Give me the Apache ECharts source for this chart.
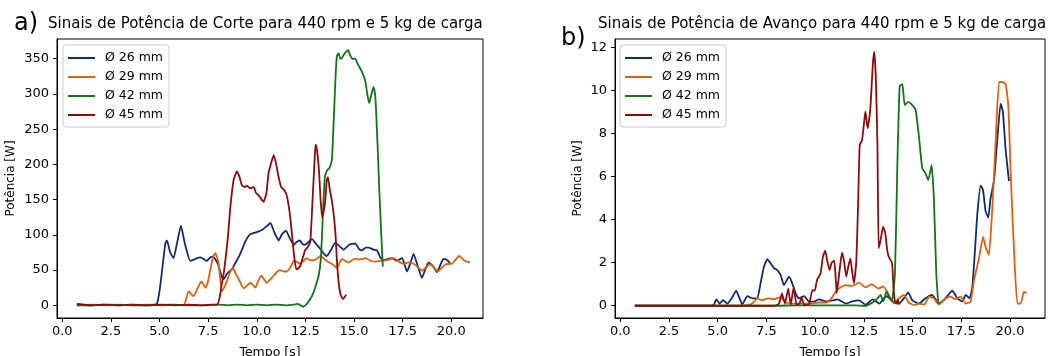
<!DOCTYPE html>
<html>
<head>
<meta charset="utf-8">
<script src="https://cdn.jsdelivr.net/npm/echarts@6/dist/echarts.min.js"></script>
<style>html,body{margin:0;padding:0;background:#fff}#c{width:1064px;height:356px}</style>
</head>
<body>
<div id="c"></div>
<script>
// ---- DATA ----
const seriesNames = ['Ø 26 mm', 'Ø 29 mm', 'Ø 42 mm', 'Ø 45 mm'];
const xTicks = [0, 2.5, 5, 7.5, 10, 12.5, 15, 17.5, 20];
const yTicksCorte = [0, 50, 100, 150, 200, 250, 300, 350];
const yTicksAvanco = [0, 2, 4, 6, 8, 10, 12];

// a) Potência de Corte [W] vs tempo [s]
const corte26 = [[0.75,1],[1.4,0],[2.1,1],[2.8,0],[3.5,1],[4.2,0],[4.7,1],[4.87,2],[5.0,20],[5.13,49],[5.3,88],[5.38,92],[5.55,75],[5.72,67],[5.9,88],[6.1,113],[6.3,88],[6.58,63],[6.85,66],[7.09,68],[7.25,66],[7.43,63],[7.6,68],[7.75,69],[7.9,64],[8.04,56],[8.2,40],[8.3,37],[8.45,44],[8.55,47],[8.72,51],[8.9,60],[9.15,73],[9.4,90],[9.67,101],[10.0,104],[10.27,107],[10.5,112],[10.7,117],[10.9,104],[11.12,92],[11.3,101],[11.5,106],[11.7,95],[11.9,86],[12.05,90],[12.2,92],[12.4,86],[12.55,87],[12.84,94],[13.05,87],[13.27,80],[13.45,73],[13.6,70],[13.8,78],[14.04,89],[14.25,84],[14.46,79],[14.75,86],[15.06,88],[15.25,80],[15.4,78],[15.6,82],[15.75,82],[16.0,79],[16.18,78],[16.35,68],[16.52,64],[16.75,66],[16.95,67],[17.2,63],[17.47,67],[17.6,58],[17.72,48],[17.9,60],[18.06,73],[18.25,58],[18.49,39],[18.65,50],[18.83,61],[19.05,56],[19.26,47],[19.45,58],[19.6,66],[19.8,64],[19.95,59]];
const corte29 = [[0.75,0],[1.5,1],[2.2,0],[3.0,1],[3.7,0],[4.4,1],[5.1,0],[5.8,1],[6.24,0],[6.5,20],[6.62,16],[6.76,13],[6.95,24],[7.15,34],[7.37,25],[7.5,35],[7.6,49],[7.75,68],[7.87,74],[7.96,68],[8.04,59],[8.2,20],[8.32,25],[8.47,35],[8.62,47],[8.77,53],[8.92,45],[9.07,37],[9.32,24],[9.5,28],[9.67,32],[9.8,29],[9.93,25],[10.05,33],[10.22,42],[10.35,38],[10.5,32],[10.7,37],[10.9,43],[11.05,48],[11.2,50],[11.38,48],[11.55,48],[11.75,55],[11.9,63],[12.05,62],[12.2,59],[12.4,63],[12.57,67],[12.75,64],[12.9,64],[13.1,66],[13.27,70],[13.5,65],[13.7,61],[13.9,58],[14.12,53],[14.25,60],[14.38,66],[14.55,63],[14.7,61],[14.85,63],[15.0,66],[15.3,65],[15.6,67],[15.8,64],[16.0,62],[16.35,63],[16.7,64],[17.05,67],[17.3,62],[17.55,59],[17.8,61],[18.06,59],[18.25,55],[18.49,49],[18.7,54],[18.9,58],[19.1,54],[19.3,48],[19.5,53],[19.7,58],[19.9,59],[20.04,59],[20.2,64],[20.4,70],[20.55,67],[20.7,63],[20.96,61]];
const corte42 = [[0.75,0],[1.5,0],[2.5,1],[3.5,0],[4.5,0],[5.5,1],[6.5,0],[7.5,0],[8.0,1],[8.5,0],[9.0,1],[9.5,0],[10.0,1],[10.5,0],[11.0,1],[11.5,0],[11.9,1],[12.1,2],[12.25,0],[12.4,-2],[12.6,3],[12.75,9],[12.9,17],[13.0,25],[13.18,42],[13.3,68],[13.4,130],[13.5,182],[13.62,192],[13.72,194],[13.86,206],[13.95,259],[14.06,330],[14.12,354],[14.2,358],[14.3,350],[14.4,352],[14.48,356],[14.6,360],[14.7,362],[14.8,355],[14.9,350],[15.06,350],[15.2,342],[15.4,332],[15.58,318],[15.68,300],[15.78,287],[15.9,300],[16.0,310],[16.08,300],[16.14,273],[16.22,220],[16.3,163],[16.4,100],[16.48,55]];
const corte45 = [[0.75,2],[1.5,0],[2.2,1],[3.0,0],[3.7,1],[4.4,0],[5.1,1],[5.8,0],[6.5,1],[7.2,0],[7.7,1],[7.98,1],[8.11,14],[8.2,30],[8.32,49],[8.5,92],[8.64,139],[8.81,178],[8.98,190],[9.1,183],[9.24,170],[9.4,168],[9.5,170],[9.65,166],[9.84,168],[9.95,160],[10.1,156],[10.25,150],[10.35,147],[10.5,160],[10.6,187],[10.75,203],[10.87,213],[11.0,200],[11.1,185],[11.25,168],[11.4,164],[11.55,155],[11.72,125],[11.9,75],[12.03,51],[12.15,53],[12.24,56],[12.48,78],[12.6,82],[12.75,90],[12.85,140],[12.92,178],[13.0,220],[13.04,228],[13.12,215],[13.2,190],[13.28,150],[13.36,125],[13.45,135],[13.52,149],[13.6,178],[13.66,182],[13.75,165],[13.85,150],[13.95,130],[14.05,100],[14.12,63],[14.2,35],[14.3,16],[14.43,9],[14.52,12],[14.6,15]];

// b) Potência de Avanço [W] vs tempo [s]
const avanco26 = [[0.75,0],[1.5,0],[2.5,0],[3.5,0],[4.5,0],[4.8,0.05],[4.93,0.3],[5.1,0.1],[5.27,0.26],[5.5,0.1],[5.75,0.4],[5.95,0.7],[6.1,0.4],[6.26,0.06],[6.52,0.45],[6.78,0.34],[7.03,0.34],[7.2,1.04],[7.37,1.8],[7.55,2.17],[7.72,1.97],[7.9,1.74],[8.06,1.66],[8.23,1.43],[8.4,0.96],[8.66,1.35],[8.83,1.04],[9.0,0.57],[9.17,0.34],[9.43,0.45],[9.69,0.19],[9.94,0.19],[10.2,0.3],[10.55,0.2],[10.9,0.25],[11.15,0.3],[11.6,0.1],[11.9,0.2],[12.25,0.25],[12.6,0.05],[12.95,0.3],[13.3,0.1],[13.65,0.45],[14.0,0.2],[14.3,0.1],[14.56,0.35],[14.78,0.62],[14.99,0.25],[15.33,0.1],[15.67,0.35],[16.0,0.5],[16.35,0.1],[16.7,0.35],[17.04,0.7],[17.3,0.35],[17.55,0.2],[17.73,0.5],[17.93,0.35],[18.07,0.88],[18.2,2.5],[18.33,4.3],[18.5,5.6],[18.62,5.37],[18.75,4.4],[18.89,4.1],[19.0,4.96],[19.18,5.81],[19.35,7.7],[19.52,9.4],[19.64,9.0],[19.78,7.24],[19.95,5.8]];
const avanco29 = [[0.75,0],[1.5,0],[2.5,0],[3.5,0],[4.5,0],[5.5,0],[6.5,0.02],[6.78,0.1],[7.03,0.34],[7.25,0.26],[7.6,0.34],[7.9,0.3],[8.2,0.4],[8.5,0.15],[8.9,0.1],[9.3,0.1],[9.7,0.1],[10.2,0.15],[10.6,0.15],[10.88,0.4],[11.05,0.65],[11.22,0.8],[11.57,0.96],[11.9,0.92],[12.25,1.07],[12.6,0.85],[12.9,1.0],[13.25,0.8],[13.5,0.9],[13.79,0.5],[14.04,0.1],[14.3,0.34],[14.56,0.5],[14.8,0.15],[15.08,0.03],[15.33,0.1],[15.6,0.05],[15.85,0.42],[16.1,0.34],[16.35,0.05],[16.7,0.34],[16.95,0.42],[17.2,0.3],[17.47,0.42],[17.73,0.1],[17.98,0.18],[18.16,1.2],[18.41,2.2],[18.62,3.2],[18.75,2.74],[18.92,2.36],[19.1,4.6],[19.27,7.7],[19.44,10.4],[19.6,10.4],[19.78,10.3],[19.92,9.25],[20.04,6.1],[20.2,2.74],[20.38,0.1],[20.55,0.1],[20.72,0.65],[20.85,0.57]];
const avanco42 = [[0.75,0],[2,0],[4,0],[6,0],[8,0],[9,0.02],[10,0.02],[11,0.02],[12,0.02],[12.6,0.0],[12.95,0.15],[13.2,0.34],[13.36,0.5],[13.5,0.2],[13.66,0.65],[13.8,0.4],[13.94,0.2],[14.1,1.5],[14.22,6.46],[14.34,10.2],[14.48,10.3],[14.6,9.33],[14.78,9.48],[14.99,9.33],[15.16,9.1],[15.33,7.86],[15.5,6.39],[15.67,6.15],[15.81,5.84],[15.98,6.54],[16.1,4.9],[16.22,1.5],[16.32,0.1]];
const avanco45 = [[0.75,0],[2,0],[4,0],[6,0],[7.5,0],[8.0,0.02],[8.15,0.1],[8.3,0.57],[8.45,0.1],[8.62,0.8],[8.75,0.05],[8.9,0.85],[9.05,0.05],[9.2,0.1],[9.3,0.4],[9.45,0.02],[9.7,0.1],[9.86,0.73],[9.98,0.7],[10.1,1.2],[10.28,1.5],[10.4,2.28],[10.52,2.56],[10.62,2.1],[10.74,1.66],[10.85,2.0],[10.98,2.1],[11.05,1.4],[11.11,0.59],[11.25,1.6],[11.38,2.47],[11.48,2.1],[11.6,1.35],[11.7,1.8],[11.81,2.2],[11.9,1.6],[11.99,1.05],[12.11,1.98],[12.2,4.5],[12.29,7.47],[12.41,7.7],[12.5,8.4],[12.58,9.03],[12.7,8.25],[12.83,9.1],[12.97,11.3],[13.04,11.8],[13.12,10.5],[13.2,7.5],[13.26,2.68],[13.35,3.0],[13.49,3.68],[13.6,3.38],[13.7,2.6],[13.78,2.28],[13.95,1.98],[14.03,0.73],[14.1,0.2],[14.17,0.1],[14.25,0.3],[14.3,0.05]];

// ---- STYLE ----
const colors = ['#0f2d6e', '#e0600f', '#15731a', '#8c0c0c'];
const FONT = 'DejaVu Sans';
const chart = echarts.init(document.getElementById('c'), null, {renderer: 'canvas'});

function xAxis(gi) {
  return {
    type: 'value', gridIndex: gi, min: -0.27, max: gi === 0 ? 21.63 : 21.8,
    name: 'Tempo [s]', nameLocation: 'middle', nameGap: 28,
    nameTextStyle: {fontFamily: FONT, fontSize: 12.5, color: '#000'},
    axisLine: {show: true, onZero: false, lineStyle: {color: '#000', width: 1}},
    axisTick: {show: true, length: 4, lineStyle: {color: '#000'}, customValues: xTicks},
    axisLabel: {fontFamily: FONT, fontSize: 13, color: '#000', margin: 7,
      customValues: xTicks, formatter: v => v.toFixed(1)},
    splitLine: {show: false}
  };
}
function yAxis(gi, ticks, min, max, gap) {
  return {
    type: 'value', gridIndex: gi, min: min, max: max,
    name: 'Potência [W]', nameLocation: 'middle', nameGap: gap,
    nameTextStyle: {fontFamily: FONT, fontSize: 12, color: '#000'},
    axisLine: {show: true, onZero: false, lineStyle: {color: '#000', width: 1}},
    axisTick: {show: true, length: 4, lineStyle: {color: '#000'}, customValues: ticks},
    axisLabel: {fontFamily: FONT, fontSize: 13, color: '#000', margin: 8,
      customValues: ticks, formatter: v => String(v)},
    splitLine: {show: false}
  };
}
function mk(name, data, i, gi) {
  return {
    name: name, type: 'line', data: data, xAxisIndex: gi, yAxisIndex: gi,
    showSymbol: false, smooth: 0.15, animation: false,
    lineStyle: {color: colors[i], width: 1.8}, itemStyle: {color: colors[i]}
  };
}
function legend(left) {
  return {
    show: true, orient: 'vertical', left: left, top: 45,
    data: seriesNames, icon: 'rect', itemWidth: 27, itemHeight: 2, itemGap: 5,
    backgroundColor: '#fff', borderColor: '#cccccc', borderWidth: 1, borderRadius: 3,
    padding: [6, 6, 5, 5],
    textStyle: {fontFamily: FONT, fontSize: 12.5, color: '#000', lineHeight: 14, padding: [0, 0, 0, 5]}
  };
}

const option = {
  backgroundColor: '#fff',
  animation: false,
  title: [
    {text: 'a)', left: 14, top: 12, padding: 0, textStyle: {fontFamily: FONT, fontSize: 24, fontWeight: 'normal', color: '#000'}},
    {text: 'Sinais de Potência de Corte para 440 rpm e 5 kg de carga', left: 48, top: 17, padding: 0,
      textStyle: {fontFamily: FONT, fontSize: 15, fontWeight: 'normal', color: '#000'}},
    {text: 'b)', left: 561, top: 27, padding: 0, textStyle: {fontFamily: FONT, fontSize: 24, fontWeight: 'normal', color: '#000'}},
    {text: 'Sinais de Potência de Avanço para 440 rpm e 5 kg de carga', left: 598, top: 17, padding: 0,
      textStyle: {fontFamily: FONT, fontSize: 15, fontWeight: 'normal', color: '#000'}}
  ],
  grid: [
    {left: 57, top: 39, width: 426, height: 279, show: true, borderColor: '#000', borderWidth: 1, backgroundColor: '#fff',
      containLabel: false, outerBoundsMode: 'none'},
    {left: 615, top: 39, width: 430, height: 279, show: true, borderColor: '#000', borderWidth: 1, backgroundColor: '#fff',
      containLabel: false, outerBoundsMode: 'none'}
  ],
  xAxis: [xAxis(0), xAxis(1)],
  yAxis: [yAxis(0, yTicksCorte, -18, 378, 40), yAxis(1, yTicksAvanco, -0.57, 12.4, 31)],
  legend: [legend(63), legend(620)],
  series: [
    mk(seriesNames[0], corte26, 0, 0), mk(seriesNames[1], corte29, 1, 0),
    mk(seriesNames[2], corte42, 2, 0), mk(seriesNames[3], corte45, 3, 0),
    mk(seriesNames[0], avanco26, 0, 1), mk(seriesNames[1], avanco29, 1, 1),
    mk(seriesNames[2], avanco42, 2, 1), mk(seriesNames[3], avanco45, 3, 1)
  ]
};
chart.setOption(option);
</script>
</body>
</html>
